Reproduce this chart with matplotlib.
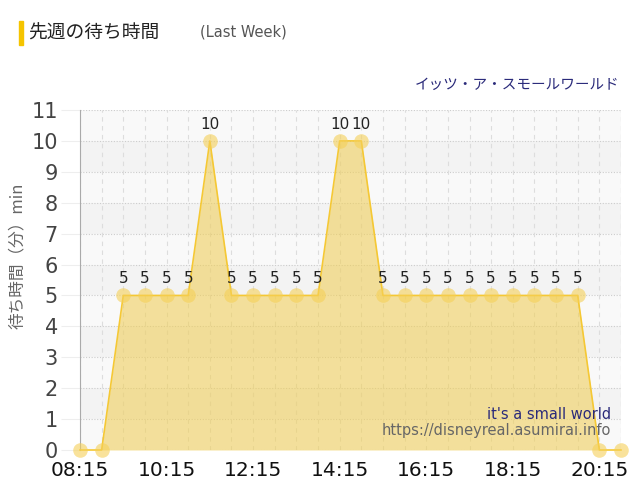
import matplotlib.pyplot as plt
import numpy as np

plt.rcParams['font.family'] = ['Noto Sans CJK JP', 'DejaVu Sans']

times = ["08:15", "08:45", "09:15", "09:45", "10:15", "10:45", "11:15", "11:45",
         "12:15", "12:45", "13:15", "13:45", "14:15", "14:45", "15:15", "15:45",
         "16:15", "16:45", "17:15", "17:45", "18:15", "18:45", "19:15", "19:45",
         "20:15", "20:45"]
waits = [0, 0, 5, 5, 5, 5, 10, 5, 5, 5, 5, 5, 10, 10, 5, 5,
         5, 5, 5, 5, 5, 5, 5, 5, 0, 0]
tick_labels = ["08:15", "10:15", "12:15", "14:15", "16:15", "18:15", "20:15"]


def to_min(t):
    h, m = t.split(":")
    return int(h) * 60 + int(m) - (8 * 60 + 15)


x = np.array([to_min(t) for t in times])
y = np.array(waits)

fig = plt.figure(figsize=(6.4, 5.0), dpi=100)
ax = fig.add_axes([80 / 640, 50 / 500, 541 / 640, 340 / 500])

# alternating bands
for i in range(11):
    ax.axhspan(i, i + 1, color='#f9f9f9' if i % 2 == 0 else '#f3f3f3', zorder=0, lw=0)

# grid
for v in range(0, 12):
    ax.axhline(v, color='#cccccc', lw=0.8, ls=(0, (1, 1.5)), zorder=1)
for xv in x:
    ax.axvline(xv, color='#dddddd', lw=0.8, ls=(0, (4, 4)), zorder=1)
ax.axvline(750, color='#dddddd', lw=0.8, ls=(0, (4, 4)), zorder=1)

ax.fill_between(x, y, 0, color='#f0cf5c', alpha=0.6, lw=0, zorder=2)
ax.plot(x, y, color='#f5c834', lw=1.2, zorder=3, clip_on=False)
ax.plot(x, y, 'o', ms=10.5, color='#f5d058', alpha=0.6, mec='none', zorder=4, clip_on=False)

for xi, yi in zip(x, y):
    if yi > 0:
        ax.text(xi, yi + 0.3, str(yi), ha='center', va='bottom', fontsize=11,
                color='#222222', family='DejaVu Sans', zorder=5)

ax.set_xlim(0, 750)
ax.set_ylim(0, 11)
ax.set_xticks([to_min(t) for t in tick_labels])
ax.set_xticklabels(tick_labels, fontsize=14.5, family='DejaVu Sans', color='#111111')
ax.set_yticks(range(12))
ax.set_yticklabels([str(v) for v in range(12)], fontsize=15, family='DejaVu Sans', color='#444444')
ax.tick_params(axis='y', length=14, color='#eeeeee', pad=2)
ax.tick_params(axis='x', length=0, pad=8)
for s in ['top', 'right', 'bottom']:
    ax.spines[s].set_visible(False)
ax.spines['left'].set_color('#aaaaaa')

fig.text(17 / 640, 1 - 256 / 500, "待ち時間（分）min", fontsize=12, color='#666666',
         rotation=90, ha='center', va='center')

# title area
fig.patches.append(plt.Rectangle((19 / 640, 1 - 45 / 500), 4 / 640, 24 / 500,
                                 transform=fig.transFigure, color='#f5c400', figure=fig))
fig.text(28 / 640, 1 - 33 / 500, "先週の待ち時間", fontsize=13.5, color='#222222', va='center')
fig.text(200 / 640, 1 - 32 / 500, "(Last Week)", fontsize=10.5, color='#555555', va='center',
         family='DejaVu Sans')
fig.text(619 / 640, 1 - 85 / 500, "イッツ・ア・スモールワールド", fontsize=10.5, color='#2a2a7a',
         ha='right', va='center')

ax.text(0.981, 0.083, "it's a small world", transform=ax.transAxes, ha='right', va='bottom',
        fontsize=10.5, color='#2a2a7a', family='DejaVu Sans', zorder=6)
ax.text(0.981, 0.035, "https://disneyreal.asumirai.info", transform=ax.transAxes, ha='right',
        va='bottom', fontsize=10.5, color='#666666', family='DejaVu Sans', zorder=6)

fig.savefig("out.png", dpi=100)
